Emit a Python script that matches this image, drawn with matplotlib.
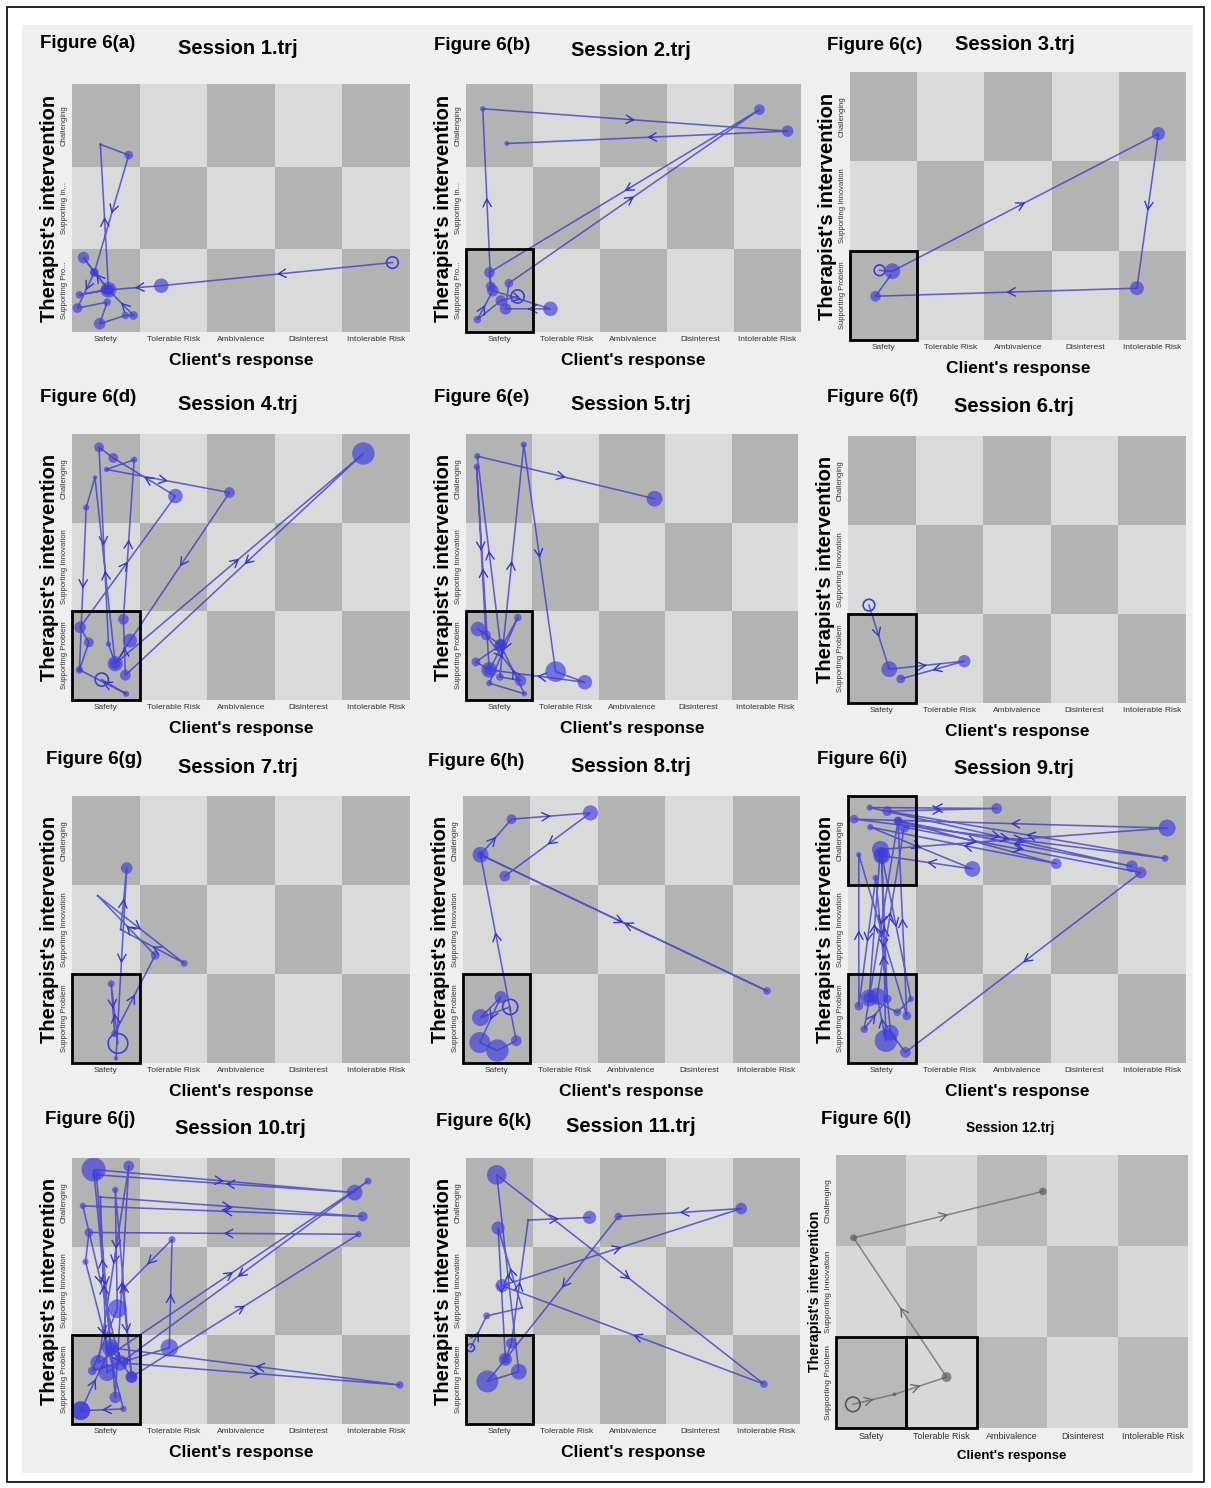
import numpy as np
import matplotlib.pyplot as plt
from matplotlib.patches import Rectangle

plt.rcParams['font.family'] = ['Liberation Sans', 'DejaVu Sans']

W, H = 1211, 1488

client_states = ['Safety', 'Tolerable Risk', 'Ambivalence', 'Disinterest', 'Intolerable Risk']
therapist_short = ['Supporting Pro...', 'Supporting In...', 'Challenging']
therapist_full = ['Supporting Problem', 'Supporting Innovation', 'Challenging']

# trajectories: x = client response (0-5), y = therapist intervention (0-3), s = marker size
s1_x = [4.74, 1.32, 0.54, 0.17, 0.33, 0.54, 0.42, 0.84, 0.33, 0.08, 0.52, 0.41, 0.79, 0.91, 0.54, 0.11, 0.49]
s1_y = [0.84, 0.56, 0.51, 0.90, 0.72, 0.51, 2.27, 2.14, 0.72, 0.29, 0.36, 0.10, 0.20, 0.20, 0.51, 0.45, 0.51]
s1_s = [70, 110, 130, 70, 40, 60, 4, 40, 30, 50, 30, 70, 30, 40, 60, 30, 40]

s2_x = [0.77, 0.52, 0.17, 0.40, 1.26, 0.59, 0.64, 4.38, 0.35, 0.37, 0.25, 4.80, 0.61]
s2_y = [0.43, 0.38, 0.15, 0.50, 0.28, 0.28, 0.59, 2.69, 0.72, 0.55, 2.70, 2.43, 2.28]
s2_s = [90, 60, 30, 70, 110, 70, 40, 60, 60, 50, 15, 70, 12]

s3_x = [0.44, 0.63, 4.59, 4.27, 0.38, 0.60]
s3_y = [0.78, 0.77, 2.31, 0.58, 0.49, 0.72]
s3_s = [60, 130, 90, 100, 60, 4]

s4_x = [0.44, 0.80, 0.11, 0.25, 0.12, 1.53, 0.61, 0.40, 0.54, 0.64, 4.31, 0.79, 0.76, 0.92, 0.51, 2.33, 0.86, 0.64, 0.34, 0.21, 0.11]
s4_y = [0.23, 0.07, 0.34, 0.65, 0.82, 2.30, 2.73, 2.85, 0.63, 0.41, 2.78, 0.28, 0.91, 2.71, 2.60, 2.34, 0.67, 0.41, 2.51, 2.17, 0.34]
s4_s = [90, 20, 30, 50, 70, 110, 50, 50, 15, 120, 260, 60, 60, 20, 15, 60, 100, 60, 10, 20, 10]

s5_x = [0.18, 0.52, 0.15, 0.35, 0.16, 0.30, 0.82, 0.51, 0.87, 1.35, 1.79, 0.35, 0.78, 0.35, 0.88, 0.52, 0.17, 2.84]
s5_y = [0.80, 0.62, 0.43, 0.34, 2.63, 0.73, 0.22, 0.26, 2.88, 0.32, 0.20, 0.34, 0.93, 0.19, 0.07, 0.62, 2.75, 2.27]
s5_s = [110, 80, 40, 130, 20, 50, 70, 30, 20, 220, 110, 60, 30, 20, 15, 60, 20, 130]

s6_x = [0.31, 0.61, 1.72, 0.78]
s6_y = [1.10, 0.38, 0.47, 0.27]
s6_s = [70, 130, 80, 40]

s7_x = [0.68, 0.58, 0.63, 1.23, 0.38, 1.66, 0.72, 0.81, 0.65]
s7_y = [0.22, 0.89, 0.33, 1.21, 1.88, 1.12, 1.50, 2.19, 0.05]
s7_s = [200, 25, 25, 40, 3, 25, 3, 70, 10]

s8_x = [0.70, 0.26, 0.56, 0.25, 0.51, 0.79, 0.70, 0.26, 4.51, 0.26, 0.72, 1.89, 0.62]
s8_y = [0.63, 0.51, 0.74, 0.23, 0.14, 0.25, 0.60, 2.34, 0.81, 2.34, 2.74, 2.81, 2.10]
s8_s = [120, 150, 80, 230, 260, 60, 4, 130, 30, 30, 50, 120, 60]

s9_x = [0.31, 0.48, 4.72, 0.09, 4.69, 0.58, 2.20, 0.32, 4.20, 0.74, 3.08, 0.33, 1.84, 0.50, 0.56, 0.43,
        0.83, 4.33, 0.85, 0.63, 0.41, 0.16, 0.16, 0.87, 0.74, 0.24, 0.58, 0.50, 0.93, 0.73, 0.31]
s9_y = [0.73, 2.40, 2.64, 2.74, 2.30, 2.83, 2.86, 2.87, 2.21, 2.72, 2.24, 2.65, 2.18, 2.33, 0.25, 0.75,
        2.65, 2.14, 0.12, 0.34, 2.08, 0.64, 2.34, 0.53, 2.72, 0.38, 0.72, 2.33, 0.72, 0.57, 0.73]
s9_s = [150, 150, 150, 40, 25, 50, 60, 20, 70, 40, 60, 20, 130, 150, 260, 150,
        60, 70, 60, 130, 20, 40, 15, 40, 30, 30, 40, 100, 20, 30, 60]

s10_x = [0.13, 0.57, 0.32, 4.18, 0.36, 0.64, 0.84, 0.39, 4.38, 0.52, 0.42, 4.30, 0.16, 0.71, 4.85,
         0.57, 0.88, 0.64, 0.67, 0.30, 1.44, 1.48, 0.75, 0.88, 4.24, 0.25, 0.20, 0.76, 0.13]
s10_y = [0.15, 0.86, 2.87, 2.61, 2.81, 0.30, 2.91, 0.69, 2.74, 0.58, 2.56, 2.34, 2.46, 0.69, 0.44,
         0.86, 0.53, 2.64, 1.30, 0.60, 0.86, 2.08, 1.52, 0.53, 2.14, 2.16, 1.83, 0.17, 0.15]
s10_s = [180, 150, 300, 130, 40, 70, 60, 130, 25, 150, 5, 50, 20, 130, 30,
         60, 70, 20, 180, 40, 160, 25, 5, 70, 20, 40, 20, 20, 180]

s11_x = [0.07, 0.31, 0.84, 0.48, 0.59, 0.32, 0.79, 0.46, 4.46, 0.54, 4.12, 2.28, 0.59, 0.68, 0.93, 1.85]
s11_y = [0.86, 1.22, 1.31, 2.21, 0.73, 0.48, 0.59, 2.81, 0.45, 1.56, 2.43, 2.34, 0.73, 0.91, 2.30, 2.33]
s11_s = [30, 25, 3, 90, 90, 250, 130, 200, 30, 90, 70, 30, 40, 60, 3, 90]

s12_x = [0.24, 0.83, 1.57, 0.25, 2.94]
s12_y = [0.26, 0.37, 0.56, 2.09, 2.60]
s12_s = [110, 8, 50, 25, 30]

# highlighted cells (column, row) per session
s_boxes = [[], [(0, 0)], [(0, 0)], [(0, 0)], [(0, 0)], [(0, 0)],
           [(0, 0)], [(0, 0)], [(0, 2), (0, 0)], [(0, 0)], [(0, 0)], [(0, 0), (1, 0)]]

# layout: (left, top, right, bottom) of each plot area in pixels, label/title positions
panels = [
    ('Figure 6(a)', 'Session 1.trj', (72, 84, 410, 332), (40, 44), (238, 48), s1_x, s1_y, s1_s, True),
    ('Figure 6(b)', 'Session 2.trj', (466, 84, 801, 332), (434, 45), (631, 50), s2_x, s2_y, s2_s, True),
    ('Figure 6(c)', 'Session 3.trj', (850, 72, 1186, 340), (827, 45), (1015, 44), s3_x, s3_y, s3_s, True),
    ('Figure 6(d)', 'Session 4.trj', (72, 434, 410, 700), (40, 398), (238, 405), s4_x, s4_y, s4_s, True),
    ('Figure 6(e)', 'Session 5.trj', (466, 434, 798, 700), (434, 397), (631, 405), s5_x, s5_y, s5_s, False),
    ('Figure 6(f)', 'Session 6.trj', (848, 436, 1186, 703), (827, 397), (1014, 407), s6_x, s6_y, s6_s, True),
    ('Figure 6(g)', 'Session 7.trj', (72, 796, 410, 1063), (46, 759), (238, 767), s7_x, s7_y, s7_s, True),
    ('Figure 6(h)', 'Session 8.trj', (463, 796, 800, 1063), (428, 761), (631, 766), s8_x, s8_y, s8_s, True),
    ('Figure 6(i)', 'Session 9.trj', (848, 796, 1186, 1063), (817, 760), (1014, 768), s9_x, s9_y, s9_s, False),
    ('Figure 6(j)', 'Session 10.trj', (72, 1158, 410, 1424), (45, 1119), (240, 1129), s10_x, s10_y, s10_s, False),
    ('Figure 6(k)', 'Session 11.trj', (466, 1158, 800, 1424), (436, 1121), (631, 1127), s11_x, s11_y, s11_s, True),
    ('Figure 6(l)', 'Session 12.trj', (836, 1155, 1188, 1428), (821, 1119), (1010, 1128), s12_x, s12_y, s12_s, True),
]

fig = plt.figure(figsize=(W / 100, H / 100), dpi=100)
fig.patch.set_facecolor('white')

# outer frame and grey panel background (behind the axes)
fig.add_artist(Rectangle((22 / W, 1 - 1473 / H), 1171 / W, 1448 / H, transform=fig.transFigure,
                         fc='#efefef', ec='none', zorder=-10))
fig.add_artist(Rectangle((7 / W, 1 - 1482 / H), 1197 / W, 1475 / H, transform=fig.transFigure,
                         fill=False, ec='black', lw=1.2, zorder=-9))


def draw_panel(ax, xs, ys, sz, boxes, ylabels, open_start, line_col, dot_col, dark, light, tick_fs):
    for i in range(5):
        for j in range(3):
            shade = dark if (i + j) % 2 == 0 else light
            ax.add_patch(Rectangle((i, j), 1, 1, color=shade, lw=0, zorder=0))

    ax.plot(xs, ys, color=line_col, lw=1.15, alpha=0.75, zorder=2)

    # direction chevrons on the longer steps
    for k in range(len(xs) - 1):
        dx, dy = xs[k + 1] - xs[k], ys[k + 1] - ys[k]
        if np.hypot(dx / 5, dy / 3) > 0.12:
            mx, my = xs[k] + dx / 2, ys[k] + dy / 2
            ax.annotate('', xy=(mx, my), xytext=(mx - dx * 0.02, my - dy * 0.02),
                        arrowprops=dict(arrowstyle='->,head_length=0.55,head_width=0.3',
                                        color=line_col, lw=1.0, shrinkA=0, shrinkB=0),
                        zorder=3)

    if open_start:
        ax.scatter(xs[1:], ys[1:], s=sz[1:], color=dot_col, alpha=0.65, lw=0, zorder=3)
        ax.scatter(xs[:1], ys[:1], s=sz[:1], facecolors='none', edgecolors=dot_col, lw=1.2, zorder=3)
    else:
        ax.scatter(xs, ys, s=sz, color=dot_col, alpha=0.65, lw=0, zorder=3)

    for bx, by in boxes:
        ax.add_patch(Rectangle((bx, by), 1, 1, fill=False, ec='black', lw=2, zorder=5, clip_on=False))

    ax.set_xlim(0, 5)
    ax.set_ylim(0, 3)
    for sp in ax.spines.values():
        sp.set_visible(False)
    ax.set_xticks(np.arange(5) + 0.5)
    ax.set_xticklabels(client_states, fontsize=tick_fs, color='#333333')
    ax.set_yticks(np.arange(3) + 0.5)
    ax.set_yticklabels(ylabels, fontsize=tick_fs - 0.5, color='#333333', rotation=90, va='center')
    ax.tick_params(length=0, pad=3)


for idx, (lab, title, box, lpos, tpos, xs, ys, sz, open_start) in enumerate(panels):
    l, t, r, b = box
    ax = fig.add_axes([l / W, 1 - b / H, (r - l) / W, (b - t) / H])
    last = idx == 11
    ylabels = therapist_short if idx < 2 else therapist_full
    if last:
        draw_panel(ax, xs, ys, sz, s_boxes[idx], ylabels, open_start,
                   '#6a6a6a', '#555555', '#b9b9b9', '#d8d8d8', 6.5)
        ax.set_xlabel("Client's response", fontsize=9.5, fontweight='bold', labelpad=6)
        ax.set_ylabel("Therapist's intervention", fontsize=10.3, fontweight='bold', labelpad=2)
        fig.text(tpos[0] / W, 1 - tpos[1] / H, title, fontsize=9.8, fontweight='bold',
                 ha='center', va='center')
    else:
        draw_panel(ax, xs, ys, sz, s_boxes[idx], ylabels, open_start,
                   '#3535d0', '#3c3ce0', '#b3b3b3', '#dadada', 6)
        ax.set_xlabel("Client's response", fontsize=12.5, fontweight='bold', labelpad=7)
        ax.set_ylabel("Therapist's intervention", fontsize=14.5, fontweight='bold', labelpad=1)
        fig.text(tpos[0] / W, 1 - tpos[1] / H, title, fontsize=14.5, fontweight='bold',
                 ha='center', va='center')
    fig.text(lpos[0] / W, 1 - lpos[1] / H, lab, fontsize=13.5, fontweight='bold',
             ha='left', va='center')

fig.savefig('out.png', dpi=100)
